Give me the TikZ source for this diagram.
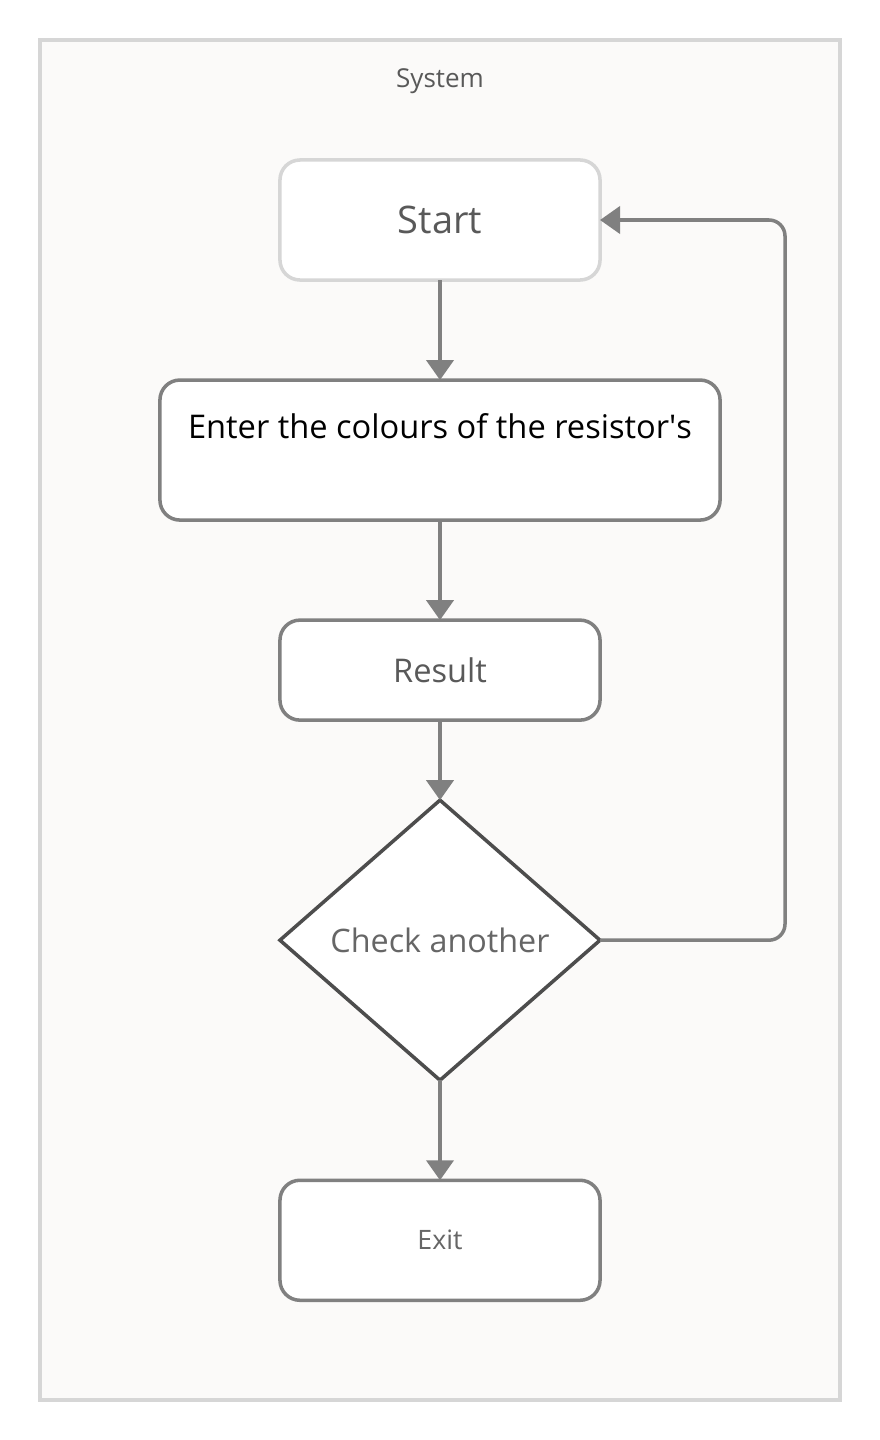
\documentclass[tikz,border=0pt]{standalone}
\usepackage{fontspec}
\setmainfont{Open Sans}
\usepackage{tikz}
\usetikzlibrary{arrows.meta, positioning, shapes.geometric}
\usepackage{xcolor}
\definecolor{framebg}{HTML}{FBFAF9}
\definecolor{frameline}{HTML}{D6D6D6}
\definecolor{boxline}{HTML}{808080}
\definecolor{diamline}{HTML}{4D4D4D}
\definecolor{txtgrey}{HTML}{595959}

\begin{document}
\begin{tikzpicture}[x=0.025cm, y=-0.025cm, >={Triangle[length=0.5cm,width=0.68cm]}, node distance=2.5cm,
  stepbox/.style={draw=boxline, line width=2.5pt, rounded corners=0.5cm, fill=white, outer sep=0pt,
    minimum width=8cm, minimum height=3cm, text=txtgrey, font=\fontsize{23.2}{28}\selectfont},
  flow/.style={->, draw=boxline, line width=2.5pt}]
\useasboundingbox (0,0) rectangle (880,1440);
\draw[fill=framebg, draw=frameline, line width=2.8pt] (40,40) rectangle (840,1400);
\node[text=txtgrey, font=\fontsize{18.5}{22}\selectfont] (system) at (440,81) {System};

\node[stepbox, draw=frameline, font=\fontsize{27}{32}\selectfont] (start) at (440,220) {Start};
\node[stepbox, below=2.5cm of start, minimum width=14cm, minimum height=3.5cm, text=black, align=center] (enter) {Enter the colours of the resistor\textquotesingle s\\[6pt]~};
\node[stepbox, below=2.5cm of enter, minimum height=2.5cm] (result) {Result};
\node[draw=diamline, line width=2.5pt, fill=white, diamond, aspect=1.143, minimum width=8cm, minimum height=7cm, inner sep=0pt, outer sep=0pt, text=black!60, font=\fontsize{23}{28}\selectfont, below=2cm of result] (check) {Check another};
\node[stepbox, below=2.5cm of check, text=black!60, font=\fontsize{19}{23}\selectfont] (exit) {Exit};

\draw[flow] (start) -- (enter);
\draw[flow] (enter) -- (result);
\draw[flow] (result) -- (check);
\draw[flow] (check) -- (exit);

\coordinate (bend) at (785,220);
\draw[flow, rounded corners=0.4cm] (check.east) -| (bend) -- (start.east);

\end{tikzpicture}
\end{document}
